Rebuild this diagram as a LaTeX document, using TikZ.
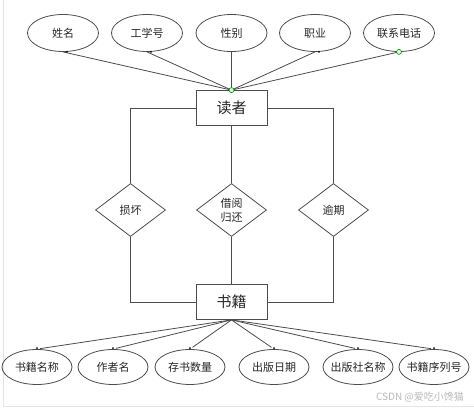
\documentclass[tikz,border=0pt]{standalone}
\usepackage{fontspec}
\setmainfont{Noto Sans CJK SC}
\usepackage{tikz}
\usetikzlibrary{shapes, positioning, calc}
\tikzset{
  attr/.style={ellipse, draw=gray!60!black, line width=0.8pt, minimum width=71pt,
               minimum height=37pt, inner sep=0pt, inner xsep=-5pt,
               font=\fontsize{11}{13}\selectfont, text=black!85},
  battr/.style={attr, minimum width=70pt, minimum height=35pt},
  ent/.style={rectangle, draw=gray!60!black, line width=0.8pt, minimum width=71pt,
              minimum height=35pt, inner sep=0pt, font=\fontsize{15}{17}\selectfont,
              text=black!85},
  rel/.style={diamond, draw=gray!60!black, line width=0.8pt, minimum width=70pt,
              minimum height=53pt, inner sep=0pt, align=center,
              font=\fontsize{11}{14}\selectfont, text=black!85},
  ln/.style={draw=gray!60!black, line width=0.8pt},
  pin/.style={circle, fill=black, inner sep=0pt, minimum size=2pt},
  sel/.style={circle, draw=green!55!black, fill=green!15, line width=0.6pt,
              inner sep=0pt, minimum size=5pt}
}
\begin{document}
\begin{tikzpicture}[x=1pt, y=-1pt]
  \useasboundingbox (0,0) rectangle (474,409);
  \draw[gray!20] (3,0) |- (474,406);
  % entities
  \node[ent] (reader) at (231.5,108) {读者};
  \node[ent] (book) at (231.5,302) {书籍};
  % relations
  \node[rel] (damage) at (130.5,210) {损坏};
  \node[rel] (borrow) at (231.5,210) {借阅\\归还};
  \node[rel] (overdue) at (333.5,210) {逾期};
  \draw[ln] (reader.west) -| (damage.north);
  \draw[ln] (damage.south) |- (book.west);
  \draw[ln] (reader.south) -- (borrow.north);
  \draw[ln] (borrow.south) -- (book.north);
  \draw[ln] (reader.east) -| (overdue.north);
  \draw[ln] (overdue.south) |- (book.east);
  % reader attributes
  \foreach \n/\x/\t in {ra1/63/姓名, ra2/147/工学号, ra3/231.5/性别, ra4/315/职业, ra5/399/联系电话} {
    \node[attr] (\n) at (\x,33) {\t};
    \draw[ln] (\n.south) -- (reader.north);
  }
  \foreach \n in {ra1, ra2, ra4} \node[pin] at ($(\n.south)+(4,0)$) {};
  \node[sel] (ssel) at (ra5.south) {};
  \node[sel] (rsel) at (reader.north) {};
  % book attributes
  \foreach \n/\x/\t in {ba1/37/书籍名称, ba2/113/作者名, ba3/190/存书数量,
                        ba4/274/出版日期, ba5/358/出版社名称, ba6/434/书籍序列号} {
    \node[battr] (\n) at (\x,367) {\t};
    \draw[ln, shorten >=3pt] (book.south) -- (\n.north);
    \node[pin] at ($(\n.north)+(0,-1)$) {};
  }
  % watermark
  \node[font=\fontsize{10}{12}\selectfont, text=gray!55] (mark) at (420,397) {CSDN @爱吃小馋猫};
\end{tikzpicture}
\end{document}
